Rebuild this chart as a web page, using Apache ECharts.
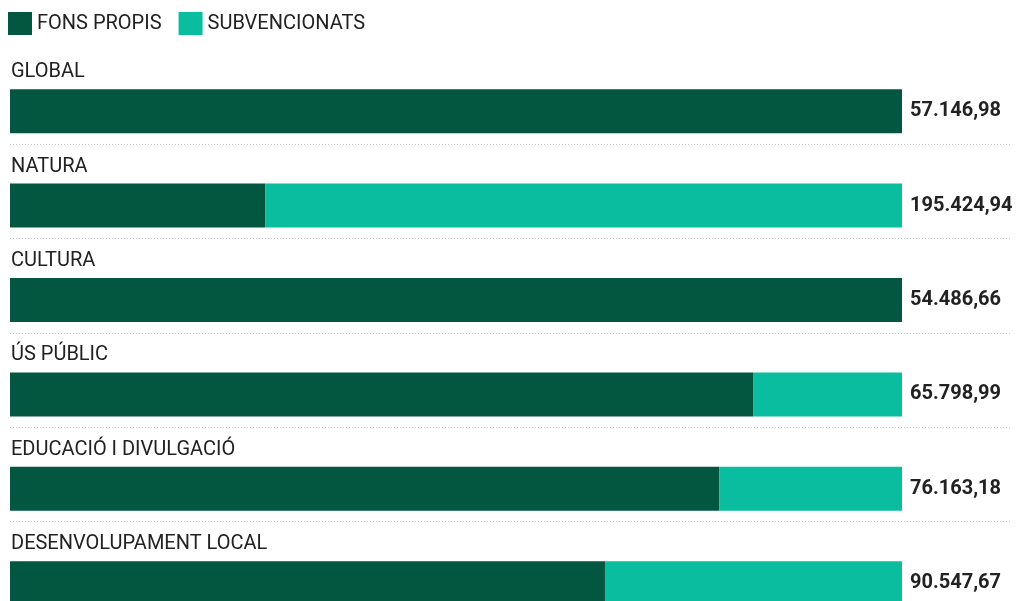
<!DOCTYPE html>
<html>
<head>
<meta charset="utf-8">
<script src="https://cdn.jsdelivr.net/npm/echarts@6/dist/echarts.min.js"></script>
<style>
  html, body { margin: 0; padding: 0; background: #fff; overflow: hidden; }
  #chart { width: 1019px; height: 640px; }
</style>
</head>
<body>
<div id="chart"></div>
<script>
const categories = ["GLOBAL", "NATURA", "CULTURA", "ÚS PÚBLIC", "EDUCACIÓ I DIVULGACIÓ", "DESENVOLUPAMENT LOCAL"];
// shares in percent of each row's total
const fonsPropis = [100, 28.6, 100, 83.3, 79.5, 66.7];
const subvencionats = [0, 71.4, 0, 16.7, 20.5, 33.3];
const totals = [57146.98, 195424.94, 54486.66, 65798.99, 76163.18, 90547.67];

const DARK = "#03563f";
const TEAL = "#0abd9f";
const FONT = "Roboto";

// 57146.98 -> "57.146,98"
const fmt = (v) => {
  const parts = v.toFixed(2).split(".");
  return parts[0].replace(/\B(?=(\d{3})+(?!\d))/g, ".") + "," + parts[1];
};

const chart = echarts.init(document.getElementById("chart"));

const rowH = 94.4;

chart.setOption({
  animation: false,
  textStyle: { fontFamily: FONT },
  legend: {
    left: 8,
    top: 12,
    padding: 0,
    itemWidth: 24,
    itemHeight: 23,
    itemGap: 17,
    icon: "rect",
    textStyle: { fontSize: 20, color: "#222", fontFamily: FONT },
    data: ["FONS PROPIS", "SUBVENCIONATS"],
  },
  grid: [
    { left: 10, right: 117, top: 64, height: rowH * categories.length },
    { left: 10, right: 7, top: 64 - rowH + 80, height: rowH * categories.length },
  ],
  xAxis: [
    { gridIndex: 0, type: "value", min: 0, max: 100, show: false },
    { gridIndex: 1, type: "value", min: 0, max: 100, show: false },
  ],
  yAxis: [
    {
      gridIndex: 0,
      type: "category",
      inverse: true,
      data: categories,
      axisLine: { show: false },
      axisTick: { show: false },
      splitLine: { show: false },
      axisLabel: { show: false },
    },
    {
      gridIndex: 1,
      type: "category",
      inverse: true,
      data: categories,
      axisLine: { show: false },
      axisTick: { show: false },
      axisLabel: { show: false },
      splitLine: {
        show: true,
        showMinLine: false,
        lineStyle: { color: "#c8c8c8", type: [1, 2], width: 1 },
      },
    },
  ],
  series: [
    {
      name: "FONS PROPIS",
      type: "bar",
      stack: "total",
      barWidth: 44,
      itemStyle: { color: DARK },
      label: {
        show: true,
        position: [1, -17],
        align: "left",
        verticalAlign: "middle",
        fontSize: 20,
        color: "#222",
        fontFamily: FONT,
        formatter: (p) => categories[p.dataIndex],
      },
      data: fonsPropis,
    },
    {
      name: "SUBVENCIONATS",
      type: "bar",
      stack: "total",
      barWidth: 44,
      itemStyle: { color: TEAL },
      label: {
        show: true,
        position: "right",
        distance: 8,
        fontSize: 20,
        fontWeight: "bold",
        color: "#222",
        fontFamily: FONT,
        formatter: (p) => fmt(totals[p.dataIndex]),
      },
      data: subvencionats,
    },
    {
      type: "bar",
      xAxisIndex: 1,
      yAxisIndex: 1,
      silent: true,
      itemStyle: { color: "transparent" },
      data: categories.map(() => 0),
    },
  ],
});
</script>
</body>
</html>
